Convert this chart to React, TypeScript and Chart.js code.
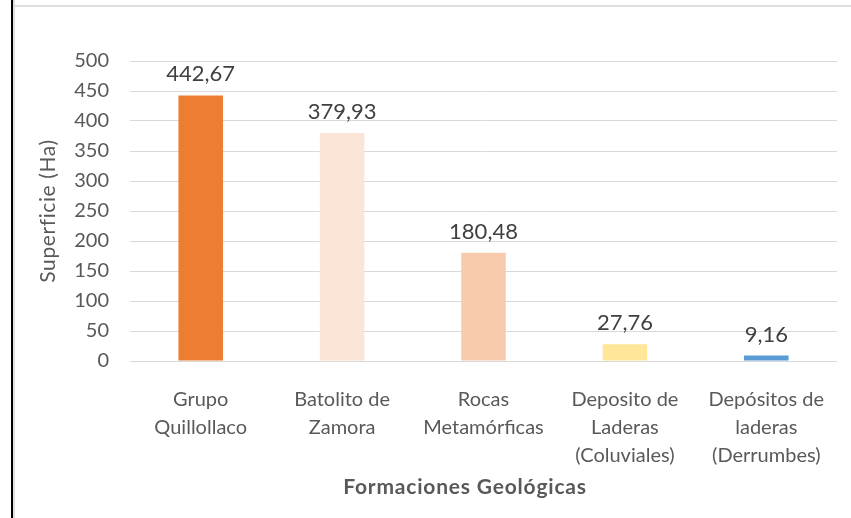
import React, { useEffect, useRef } from "react";
import { Chart, registerables } from "chart.js";

Chart.register(...registerables);

const categories: string[][] = [
  ["Grupo", "Quillollaco"],
  ["Batolito de", "Zamora"],
  ["Rocas", "Metamórficas"],
  ["Deposito de", "Laderas", "(Coluviales)"],
  ["Depósitos de", "laderas", "(Derrumbes)"],
];
const values: number[] = [442.67, 379.93, 180.48, 27.76, 9.16];
const valueLabels: string[] = ["442,67", "379,93", "180,48", "27,76", "9,16"];
const barColors: string[] = ["#ED7D31", "#FBE5D6", "#F8CBAD", "#FFE699", "#5B9BD5"];
const yTitle = "Superficie (Ha)";
const xTitle = "Formaciones Geológicas";
const yMin = 0;
const yMax = 500;
const yStep = 50;

const FONT = "Lato, 'Open Sans', sans-serif";

const decorPlugin = {
  id: "decor",
  beforeDraw(chart: any) {
    const ctx = chart.ctx;
    ctx.save();
    ctx.fillStyle = "#ffffff";
    ctx.fillRect(0, 0, chart.width, chart.height);
    ctx.fillStyle = "#000000";
    ctx.fillRect(11, 0, 2, chart.height);
    ctx.fillStyle = "#dedede";
    ctx.fillRect(13, 0, 2, chart.height);
    ctx.fillRect(13, 5, chart.width - 13, 2);
    ctx.restore();
  },
  afterDraw(chart: any) {
    const ctx = chart.ctx;
    const area = chart.chartArea;
    ctx.save();
    ctx.fillStyle = "#595959";
    ctx.font = `21px ${FONT}`;
    try { (ctx as any).letterSpacing = "0.6px"; } catch (e) {}
    ctx.textAlign = "center";
    ctx.textBaseline = "middle";
    ctx.translate(48, (area.top + area.bottom) / 2);
    ctx.rotate(-Math.PI / 2);
    ctx.fillText(yTitle, 0, 0);
    ctx.restore();
    ctx.save();
    ctx.fillStyle = "#595959";
    ctx.font = `bold 21px ${FONT}`;
    try { (ctx as any).letterSpacing = "0.8px"; } catch (e) {}
    ctx.textAlign = "center";
    ctx.textBaseline = "middle";
    ctx.fillText(xTitle, 465, 487);
    ctx.restore();
  },
};

const labelPlugin = {
  id: "barLabels",
  afterDatasetsDraw(chart: any) {
    const ctx = chart.ctx;
    const meta = chart.getDatasetMeta(0);
    ctx.save();
    ctx.fillStyle = "#404040";
    ctx.font = `22px ${FONT}`;
    ctx.textAlign = "center";
    ctx.textBaseline = "middle";
    meta.data.forEach((el: any, i: number) => {
      ctx.fillText(valueLabels[i], el.x, el.y - 21);
    });
    ctx.restore();
  },
};

export default function App() {
  const ref = useRef<HTMLCanvasElement | null>(null);
  useEffect(() => {
    if (!ref.current) return;
    const chart = new Chart(ref.current, {
      type: "bar",
      data: {
        labels: categories,
        datasets: [
          {
            data: values,
            backgroundColor: barColors,
            borderWidth: 0,
            categoryPercentage: 1,
            barPercentage: 0.315,
          },
        ],
      },
      options: {
        animation: false,
        responsive: false,
        devicePixelRatio: 1,
        layout: { padding: { top: 61, left: 0, right: 14, bottom: 0 } },
        plugins: {
          legend: { display: false },
          tooltip: { enabled: false },
          title: { display: false },
        },
        scales: {
          x: {
            grid: { display: false, drawTicks: false },
            border: { display: false },
            ticks: {
              color: "#595959",
              font: { family: FONT, size: 20, lineHeight: "28px" },
              padding: 25,
              maxRotation: 0,
              autoSkip: false,
            },
            afterFit(scale: any) {
              scale.height = 157;
            },
          },
          y: {
            min: yMin,
            max: yMax,
            grid: { color: "#d9d9d9", lineWidth: 1, drawTicks: false },
            border: { display: false },
            ticks: {
              stepSize: yStep,
              color: "#595959",
              font: { family: FONT, size: 20 },
              padding: 21,
            },
            afterFit(scale: any) {
              scale.width = 130;
            },
          },
        },
      },
      plugins: [decorPlugin, labelPlugin],
    });
    return () => chart.destroy();
  }, []);
  return (
    <div style={{ position: "absolute", left: 0, top: 0, width: 851, height: 518 }}>
      <canvas ref={ref} width={851} height={518} style={{ display: "block" }} />
    </div>
  );
}
